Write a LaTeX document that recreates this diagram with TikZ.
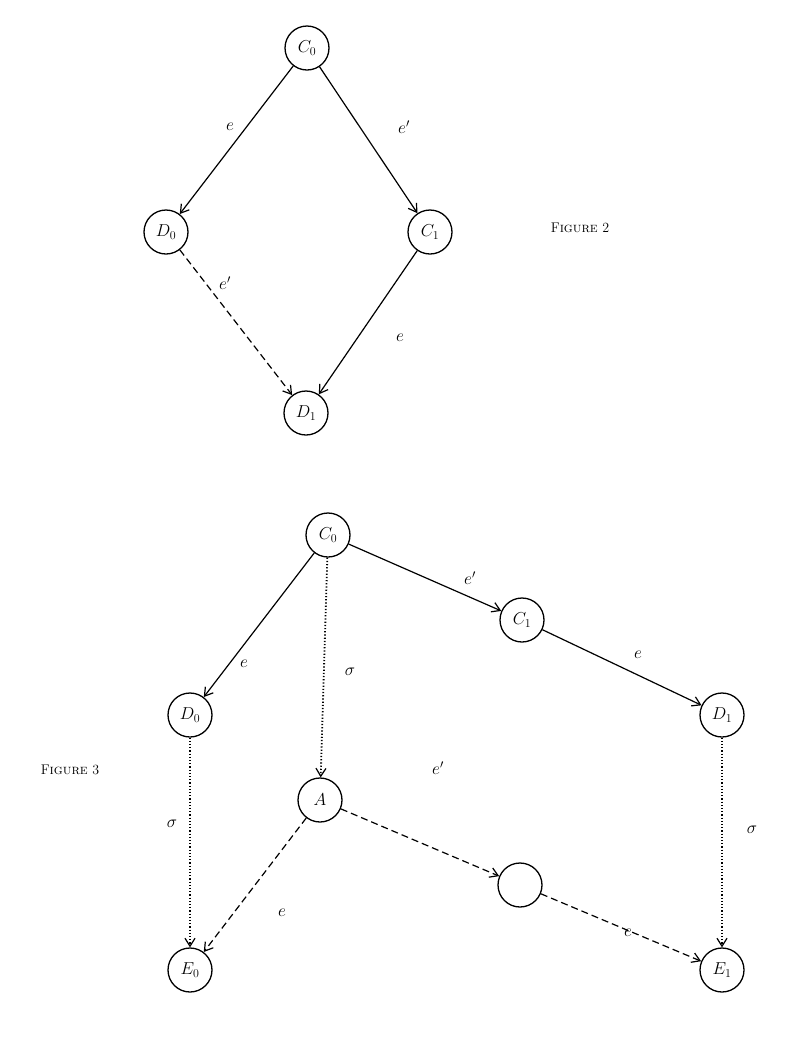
\documentclass[tikz,border=0pt]{standalone}
\usetikzlibrary{arrows.meta}
\begin{document}
\begin{tikzpicture}[x=1pt,y=-1pt,
  st/.style={circle,draw,line width=1.3pt,minimum size=44pt,inner sep=0pt,font=\fontsize{18}{20}\selectfont},
  ed/.style={line width=1.2pt,-{Straight Barb[length=8pt,width=10pt,line width=1.2pt]}},
  da/.style={ed,dash pattern=on 7pt off 4pt},
  dt/.style={ed,dotted,line width=1.8pt},
  lb/.style={font=\fontsize{18}{20}\selectfont},
  figcap/.style={font=\fontsize{14}{16}\selectfont}]
\useasboundingbox (0,0) rectangle (800,1045);
% Figure 2
\node[st] (a0) at (307,48) {$C_0$};
\node[st] (a1) at (166,232) {$D_0$};
\node[st] (a2) at (430,232) {$C_1$};
\node[st] (a3) at (306,413) {$D_1$};
\draw[ed] (a0) -- (a1);
\draw[ed] (a0) -- (a2);
\draw[da] (a1) -- (a3);
\draw[ed] (a2) -- (a3);
\node[lb] (l1) at (230,127) {$e$};
\node[lb] (l2) at (404,127) {$e'$};
\node[lb] (l3) at (225,283) {$e'$};
\node[lb] (l4) at (400,338) {$e$};
\node[figcap] (f2) at (580,228) {F\textsc{igure} 2};
% Figure 3
\node[st] (c0) at (328,535) {$C_0$};
\node[st] (c1) at (522,620) {$C_1$};
\node[st] (d0) at (190,715) {$D_0$};
\node[st] (d1) at (722,715) {$D_1$};
\node[st] (aa) at (320,800) {$A$};
\node[st] (bb) at (520,885) {};
\node[st] (e0) at (190,970) {$E_0$};
\node[st] (e1) at (722,970) {$E_1$};
\draw[ed] (c0) -- (d0);
\draw[ed] (c0) -- (c1);
\draw[ed] (c1) -- (d1);
\draw[dt] (c0) -- (aa);
\draw[dt] (d0) -- (e0);
\draw[dt] (d1) -- (e1);
\draw[da] (aa) -- (e0);
\draw[da] (aa) -- (bb);
\draw[da] (bb) -- (e1);
\node[lb] (m1) at (244,664) {$e$};
\node[lb] (m2) at (470,578) {$e'$};
\node[lb] (m3) at (350,672) {$\sigma$};
\node[lb] (m4) at (638,655) {$e$};
\node[lb] (m5) at (172,824) {$\sigma$};
\node[lb] (m6) at (438,768) {$e'$};
\node[lb] (m7) at (282,913) {$e$};
\node[lb] (m8) at (628,933) {$e$};
\node[lb] (m9) at (752,830) {$\sigma$};
\node[figcap] (f3) at (70,770) {F\textsc{igure} 3};
\end{tikzpicture}
\end{document}
